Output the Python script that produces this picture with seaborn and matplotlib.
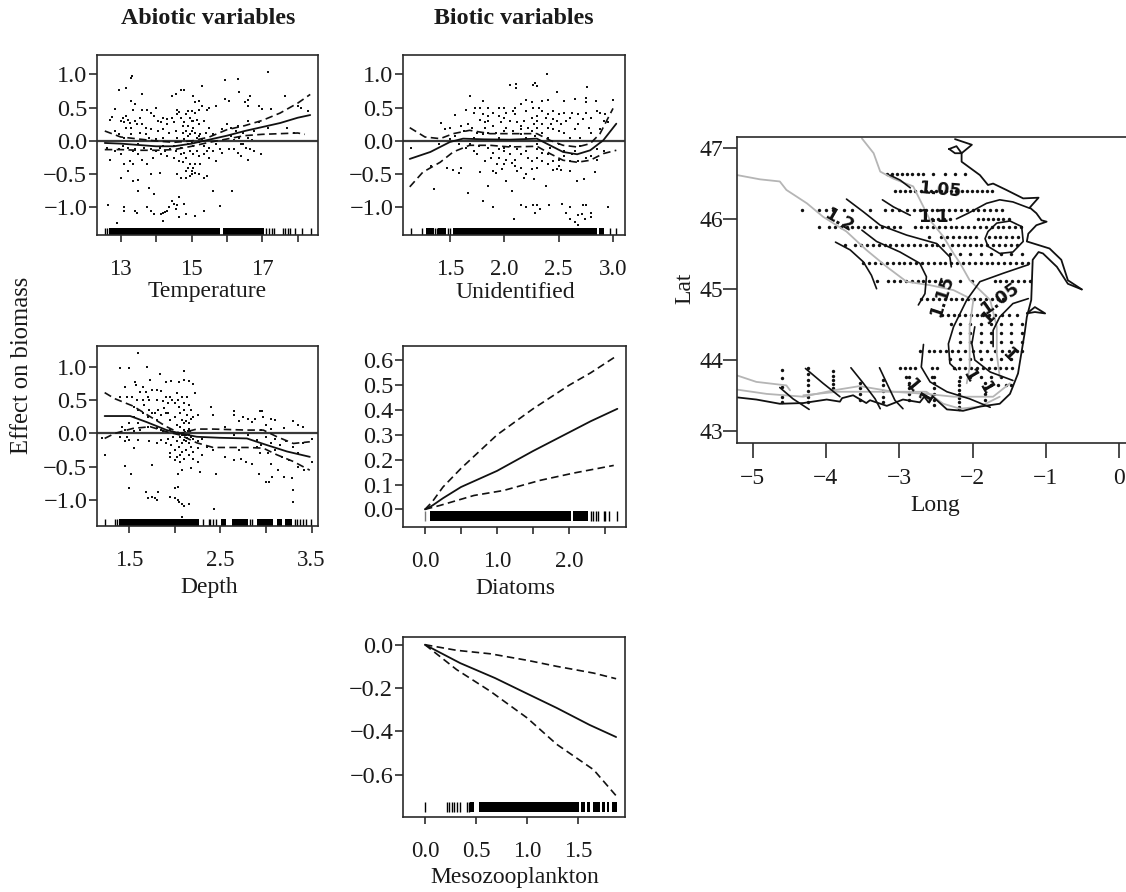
# plot.py - GAM partial effects on biomass and the map of the spatial term
import pandas as pd
import matplotlib
matplotlib.use("Agg")
import matplotlib.pyplot as plt
import seaborn as sns

# --- Temperature panel ---
temp_x = [12.55, 13.0, 13.5, 14.0, 14.5, 15.0, 15.5, 16.0, 16.5, 17.0, 17.5, 18.0, 18.35]
temp_mean = [-0.03, -0.04, -0.06, -0.08, -0.08, -0.04, 0.02, 0.08, 0.15, 0.21, 0.27, 0.35, 0.39]
temp_upper = [0.15, 0.06, 0.03, 0.0, -0.02, 0.0, 0.06, 0.17, 0.23, 0.31, 0.42, 0.57, 0.70]
temp_lower_x = [12.55, 13.0, 13.5, 14.0, 14.5, 15.0, 15.5, 16.0, 16.5, 17.0, 17.5, 18.0, 18.2]
temp_lower = [-0.13, -0.13, -0.14, -0.14, -0.13, -0.08, -0.02, 0.03, 0.08, 0.10, 0.11, 0.12, 0.10]
temp_rug_blocks = [(12.68, 15.81), (15.88, 17.04)]
temp_rug_single = [12.56, 12.6, 17.11, 17.18, 17.27, 17.32, 17.58, 17.65, 17.72, 17.77, 17.93, 18.12, 18.36]
temp_points = [
    (13.3, .95), (13.32, .97), (12.95, .77), (13.15, .79), (13.6, .7), (14.45, .68), (14.55, .7), (14.7, .77),
    (14.8, .77), (15.3, .82), (15.95, .92), (16.3, .93), (16.35, .74), (17.15, 1.04), (15.05, .68), (15.2, .6),
    (15.1, .58), (15.95, .63), (16.05, .6), (16.65, .67), (16.6, .62), (16.5, .58), (16.6, .53), (16.9, .53),
    (17.0, .48), (17.25, .48), (17.65, .67), (18.1, .5), (18.0, .52), (18.3, .45), (12.85, .48), (12.75, .36),
    (12.7, .32), (13.05, .35), (13.0, .3), (13.1, .28), (13.3, .6), (13.4, .55), (13.35, .47), (13.6, .47),
    (13.75, .46), (13.85, .42), (13.95, .38), (14.0, .5), (14.2, .35), (14.3, .33), (14.05, .3), (14.45, .35),
    (14.6, .47), (14.65, .44), (14.85, .4), (14.95, .35), (15.0, .3), (15.1, .42), (15.2, .46), (15.3, .52),
    (15.45, .47), (15.5, .5), (15.7, .52), (14.9, .45), (15.0, .45), (14.8, .28), (14.9, .22), (15.05, .2),
    (15.2, .25), (15.35, .3), (15.5, .2), (13.15, .2), (13.3, .2), (13.45, .25), (13.6, .25), (13.7, .2),
    (13.85, .18), (14.05, .15), (14.2, .18), (14.35, .12), (14.55, .15), (14.75, .12), (16.0, .25), (16.1, .2),
    (16.3, .22), (16.45, .12), (16.6, .3), (16.75, .15), (16.9, .28), (16.1, .08), (15.85, .18), (17.7, .2),
    (17.9, .12), (17.15, .2), (12.85, .15), (12.95, .1), (13.1, .05), (12.6, -.1), (12.7, -.28), (12.85, -.15),
    (13.0, -.2), (13.1, -.35), (13.25, -.3), (13.35, -.35), (13.2, -.45), (13.0, -.55), (13.4, -.12), (13.5, -.2),
    (13.6, -.28), (13.75, -.35), (13.9, -.25), (14.0, -.15), (14.15, -.2), (14.3, -.22), (14.5, -.25), (14.65, -.3),
    (14.75, -.32), (14.85, -.25), (14.9, -.4), (15.0, -.45), (15.1, -.35), (15.2, -.22), (15.35, -.2), (15.5, -.25),
    (15.7, -.3), (15.85, -.18), (16.05, -.12), (16.3, -.18), (16.4, -.22), (16.6, -.28), (16.75, -.15), (16.95, -.2),
    (14.6, -.5), (14.7, -.55), (14.85, -.55), (15.0, -.5), (15.2, -.5), (15.35, -.55), (15.45, -.52), (13.35, -.6),
    (13.5, -.58), (13.85, -.5), (14.1, -.48), (13.5, -.75), (13.8, -.7), (13.95, -.8), (15.6, -.75), (16.15, -.75),
    (15.0, -.02), (15.1, 0.0), (15.2, -.02), (15.3, .01), (15.15, .04), (14.9, -.05), (14.8, .03), (15.05, -.08),
    (14.7, -.1), (15.35, -.08), (15.5, -.1), (15.7, -.05), (16.2, .02), (16.4, -.05), (13.5, -.05), (13.8, .05),
    (14.2, -.08), (14.5, -.07), (12.65, -.97), (13.1, -1.0), (13.1, -1.05), (13.4, -1.05), (13.45, -1.08),
    (13.75, -1.0), (13.85, -1.05), (13.95, -1.1), (14.15, -1.1), (14.2, -1.08), (14.25, -1.07), (14.3, -1.05),
    (14.35, -1.0), (14.45, -.9), (14.5, -.95), (14.55, -1.02), (14.65, -.85), (14.6, -.97), (14.65, -1.15),
    (14.8, -.95), (14.85, -1.1), (15.1, -1.13), (15.35, -1.06), (15.8, -.98), (14.2, -1.2), (12.9, -1.23),
    (14.6, .4), (14.7, .35), (14.75, .22), (14.85, .15), (14.95, .1), (15.05, .3), (15.1, .12), (15.15, .32),
    (15.25, .1), (15.4, .12), (15.6, .1), (14.95, -.15), (15.05, -.2), (15.15, -.15), (14.8, -.18), (14.7, -.2),
    (14.55, -.15), (14.4, -.12), (14.25, -.15), (14.1, -.1), (13.85, -.12), (13.65, -.1), (13.35, -.15), (13.2, -.1),
    (13.05, -.08), (12.95, -.12), (14.95, -.35), (15.05, -.4), (14.85, -.45), (14.95, -.52), (15.1, -.48),
    (15.25, -.35), (15.45, -.15), (15.6, -.15), (15.8, -.12), (16.2, -.12), (16.45, -.05), (16.55, -.1),
    (16.65, -.12), (13.2, .32), (13.25, .27), (13.4, .3), (13.55, .35), (13.15, .38), (14.15, .28), (14.3, .25),
    (14.5, .28), (16.25, .15), (16.35, .05), (16.6, .05), (16.7, .02), (13.3, .1), (13.55, .12), (13.7, .1),
    (14.0, .03), (14.2, .05), (14.6, .05), (14.9, .08), (15.2, .08), (15.0, .15),
]

# --- Unidentified panel ---
unid_x = [1.13, 1.32, 1.5, 1.62, 1.81, 2.05, 2.30, 2.42, 2.54, 2.67, 2.79, 2.91, 3.03]
unid_mean = [-0.27, -0.165, -0.015, 0.035, 0.025, 0.02, 0.035, -0.065, -0.165, -0.20, -0.14, 0.01, 0.26]
unid_upper_x = [1.13, 1.27, 1.41, 1.53, 1.68, 1.87, 2.05, 2.30, 2.42, 2.54, 2.67, 2.79, 2.88, 3.0]
unid_upper = [0.20, 0.06, 0.035, 0.11, 0.16, 0.11, 0.11, 0.11, 0.01, -0.065, -0.09, -0.04, 0.11, 0.49]
unid_lower_x = [1.13, 1.25, 1.41, 1.53, 1.68, 1.87, 2.05, 2.30, 2.42, 2.54, 2.67, 2.79, 2.91, 3.03]
unid_lower = [-0.69, -0.47, -0.32, -0.165, -0.065, -0.065, -0.09, -0.08, -0.19, -0.29, -0.32, -0.29, -0.19, -0.14]
unid_rug_blocks = [(1.28, 1.35), (1.39, 1.46), (1.525, 2.85), (2.87, 2.92)]
unid_rug_single = [1.14, 1.24, 1.36, 1.38, 1.48, 1.5, 2.97, 3.03]
unid_points = [
    (2.39, 1.0), (2.05, .84), (2.11, .85), (2.11, .79), (2.28, .87), (2.30, .83), (2.26, .84), (2.76, .81),
    (2.48, .74), (1.68, .67), (3.0, .62), (1.8, .6), (2.55, .6), (2.65, .63), (2.75, .65), (2.75, .58), (2.84, .6),
    (2.2, .62), (2.25, .58), (2.35, .6), (2.4, .62), (2.15, .55), (2.32, .5), (2.0, .5), (1.95, .5), (2.1, .5),
    (1.65, .46), (1.73, .5), (1.78, .5), (1.85, .5), (1.55, .39), (1.72, .42), (1.8, .4), (1.85, .38), (1.78, .32),
    (1.82, .28), (1.9, .42), (1.95, .38), (2.02, .42), (2.1, .4), (2.2, .45), (2.26, .5), (2.35, .45), (2.3, .38),
    (2.38, .35), (2.45, .45), (2.5, .4), (2.55, .42), (2.62, .42), (2.68, .4), (2.85, .45), (2.88, .42), (2.93, .4),
    (2.8, .35), (2.72, .33), (2.57, .3), (2.48, .3), (2.43, .25), (2.35, .25), (2.27, .25), (2.18, .3), (2.12, .28),
    (2.05, .3), (1.97, .28), (1.9, .22), (1.82, .2), (1.67, .25), (1.7, .2), (1.63, .15), (1.6, .22), (1.42, .27),
    (1.45, .18), (1.5, .2), (2.45, .18), (2.55, .12), (2.65, .18), (2.7, .05), (2.8, .12), (2.88, .18), (2.0, .15),
    (2.25, .15), (2.35, .12), (1.14, -.1), (1.4, -.05), (1.55, .08), (1.65, -.1), (1.72, -.15), (1.75, -.2),
    (1.85, -.1), (1.9, -.18), (1.95, -.25), (2.0, -.15), (2.05, -.2), (2.1, -.28), (2.15, -.2), (2.2, -.15),
    (2.25, -.3), (2.3, -.25), (2.35, -.18), (2.4, -.2), (2.45, -.3), (2.5, -.38), (2.48, -.42), (2.55, -.15),
    (2.62, -.2), (2.68, -.3), (2.75, -.25), (2.8, -.22), (2.85, -.28), (2.92, -.15), (2.0, -.35), (1.92, -.48),
    (1.9, -.45), (2.02, -.6), (2.1, -.38), (2.15, -.4), (2.2, -.5), (2.25, -.42), (2.18, -.55), (2.27, -.57),
    (2.45, -.43), (2.6, -.45), (1.6, -.4), (1.47, -.4), (1.53, -.43), (1.58, -.48), (1.78, -.47), (1.33, -.37),
    (1.35, -.72), (2.67, -.6), (2.73, -.57), (2.83, -.47), (2.38, -.68), (1.85, -.68), (1.67, -.78), (2.07, -.75),
    (1.8, -.9), (1.9, -1.0), (2.15, -.97), (2.2, -1.0), (2.26, -.97), (2.3, -.97), (2.33, -1.02), (2.28, -1.08),
    (2.41, -.97), (2.53, -.95), (2.6, -1.0), (2.57, -1.08), (2.6, -1.18), (2.65, -1.22), (2.68, -1.12),
    (2.68, -1.27), (2.71, -1.1), (2.72, -.96), (2.75, -.96), (2.74, -1.17), (2.8, -1.08), (2.8, -1.14), (2.95, -1.0),
    (2.09, -1.18), (2.0, -.1), (2.1, 0.0), (2.2, .05), (2.3, -.05), (1.8, .0), (1.95, .05), (2.4, .05), (2.5, -.05),
    (2.65, -.15), (1.85, .12), (1.72, .05),
    (1.75, .12), (1.8, .1), (1.92, .12), (2.02, .2), (2.08, .15), (2.15, .18), (2.22, .2), (2.3, .2), (2.4, .2),
    (2.5, .15), (2.6, .05), (2.15, .1), (2.28, .08), (2.42, -.1), (2.55, -.22), (2.6, -.3), (2.35, -.3), (2.3, -.12),
    (2.22, -.25), (2.12, -.12), (2.05, -.08), (1.95, -.12), (1.88, -.25), (1.82, -.3), (1.77, -.08), (1.68, -.05),
    (1.58, -.05), (1.5, .03), (2.02, -.28), (2.07, -.33), (2.12, -.45), (1.98, -.42), (1.93, -.35), (2.3, -.4),
    (2.4, -.35), (2.5, -.28), (2.52, -.43), (2.15, .22), (2.25, .35), (2.3, .3), (2.4, .4), (2.08, .45), (2.0, .35),
    (1.85, .3), (2.45, .33), (2.52, .25), (2.6, .35), (2.68, .25), (2.75, .42), (2.78, .2), (2.92, .3), (2.95, .28),
    (2.7, -.08), (2.85, -.12),
]

# --- Depth panel ---
depth_x = [1.23, 1.51, 1.69, 1.91, 2.06, 2.24, 2.49, 2.79, 3.0, 3.23, 3.48]
depth_mean = [0.26, 0.26, 0.17, 0.05, 0.0, -0.05, -0.065, -0.075, -0.17, -0.27, -0.35]
depth_ci_x = [1.23, 1.34, 1.54, 1.73, 1.91, 2.06, 2.24, 2.42, 2.79, 2.97, 3.12, 3.30, 3.48]
depth_upper = [0.61, 0.52, 0.41, 0.25, 0.10, 0.0, 0.065, 0.065, 0.05, 0.05, -0.05, -0.15, -0.125]
depth_lower = [-0.075, 0.0, 0.075, 0.10, 0.025, -0.025, -0.14, -0.21, -0.21, -0.22, -0.32, -0.42, -0.55]
depth_rug_blocks = [(1.39, 2.27), (2.51, 2.56), (2.63, 2.80), (2.90, 3.08), (3.12, 3.17), (3.21, 3.28)]
depth_rug_single = [1.23, 1.34, 1.37, 2.31, 2.37, 2.39, 2.42, 2.45, 2.82, 2.85, 3.32, 3.34, 3.37, 3.41, 3.44, 3.49]
depth_points = [
    (1.6, 1.2), (1.4, .98), (1.5, .98), (1.69, .99), (1.84, .89), (2.1, .94), (1.56, .77), (1.73, .8), (1.57, .72),
    (1.45, .7), (1.65, .7), (1.9, .77), (1.96, .78), (2.05, .77), (2.1, .8), (2.15, .78), (2.2, .74), (1.62, .62),
    (1.68, .62), (1.75, .65), (1.8, .65), (1.85, .63), (1.9, .55), (1.95, .55), (2.02, .6), (2.08, .55), (2.13, .55),
    (2.22, .6), (1.4, .55), (1.47, .55), (1.53, .55), (1.58, .5), (1.65, .5), (1.72, .5), (1.8, .5), (1.87, .48),
    (1.92, .45), (1.97, .5), (2.05, .4), (2.1, .45), (2.15, .42), (2.18, .35), (2.1, .35), (2.13, .28), (2.2, .25),
    (2.18, .22), (2.25, .27), (2.4, .4), (2.42, .27), (2.65, .34), (2.65, .27), (2.75, .25), (2.8, .22), (2.88, .22),
    (2.93, .34), (2.96, .34), (2.97, .25), (3.05, .22), (3.1, .2), (3.3, .18), (3.4, .1), (3.35, .13), (2.7, .18),
    (2.85, .17), (3.0, .12), (3.2, .08), (2.55, .1), (3.05, .07), (1.2, -.07), (1.23, -.32), (1.42, .1), (1.5, .15),
    (1.55, .25), (1.6, .15), (1.65, .3), (1.7, .25), (1.75, .3), (1.8, .2), (1.85, .28), (1.9, .3), (1.95, .2),
    (2.0, .25), (1.7, .1), (1.8, .08), (1.85, .05), (1.95, .05), (2.02, .12), (2.06, .1), (2.1, .05), (2.12, -.02),
    (2.14, .03), (2.15, -.03), (2.17, 0), (2.18, -.05), (2.13, -.07), (2.16, .06), (2.1, -.1), (2.08, -.15),
    (2.05, -.2), (2.0, -.25), (1.95, -.3), (1.9, -.15), (1.85, -.1), (1.8, -.15), (1.72, -.12), (1.6, -.1),
    (1.55, -.22), (1.45, -.12), (1.47, -.05), (1.5, -.1), (1.95, -.35), (2.02, -.35), (2.06, -.43), (2.1, -.38),
    (2.15, -.33), (2.2, -.28), (2.25, -.22), (2.3, -.33), (2.25, -.42), (2.18, -.52), (2.28, -.58), (2.35, -.2),
    (2.42, -.25), (2.55, -.35), (2.65, -.4), (2.72, -.38), (2.78, -.42), (2.85, -.45), (2.93, -.3), (3.02, -.3),
    (3.1, -.25), (3.18, -.35), (3.25, -.4), (3.35, -.5), (3.42, -.55), (3.5, -.42), (3.5, -.08), (3.4, -.15),
    (2.9, -.1), (3.0, -.05), (3.1, -.08), (2.7, -.25), (3.0, -.72), (3.03, -.72), (3.06, -.65), (3.05, -.45),
    (3.13, -.55), (3.2, -.65), (3.28, -.67), (2.92, -.6), (2.03, -.6), (2.08, -.55), (2.45, -.6), (1.45, -.48),
    (1.52, -.6), (1.75, -.47), (1.5, -.82), (1.68, -.87), (1.7, -.96), (1.75, -.95), (1.78, -.96), (1.82, -.87),
    (1.95, -.95), (2.0, -.97), (2.03, -1.0), (2.05, -1.03), (2.08, -1.05), (2.1, -1.08), (2.15, -1.05), (2.03, -.8),
    (2.0, -.82), (1.8, -1.0), (2.08, -1.25), (2.43, -1.13), (3.3, -.85), (3.3, -1.02),
    (2.0, .45), (2.03, .5), (2.06, .3), (2.08, .2), (2.1, .15), (2.12, .18), (2.15, .15), (2.06, -.05), (2.08, -.03),
    (2.1, -.02), (2.11, .02), (2.13, .01), (2.14, -.01), (2.16, -.02), (2.17, .03), (2.19, .0), (2.12, -.12),
    (2.15, -.15), (2.18, -.2), (2.02, -.12), (1.98, -.05), (1.92, -.08), (1.87, .03), (1.78, .3), (1.82, .35),
    (1.88, .38), (1.93, .3), (1.72, .35), (1.66, .42), (1.6, .35), (1.55, .4), (1.7, .55), (1.62, .05), (1.55, .03),
    (1.45, .05), (1.4, -.05), (2.2, -.08), (2.25, -.12), (2.3, -.08), (2.08, -.28), (2.12, -.25), (2.2, -.38),
    (2.06, -.32), (1.96, -.18), (2.0, -.4), (2.9, -.2), (2.95, -.18), (3.05, -.15), (3.15, -.18), (3.22, -.12),
    (3.3, -.2), (3.35, -.3), (2.95, .05), (2.8, -.02), (2.65, -.02),
]

# --- Diatoms panel ---
diat_x = [0.0, 0.1, 0.25, 0.5, 1.0, 1.5, 2.0, 2.3, 2.67]
diat_mean = [0.0, 0.015, 0.045, 0.09, 0.155, 0.235, 0.31, 0.355, 0.405]
diat_upper = [0.0, 0.03, 0.09, 0.165, 0.30, 0.405, 0.50, 0.55, 0.62]
diat_lower_x = [0.0, 0.21, 0.68, 1.09, 1.6, 2.06, 2.62]
diat_lower = [0.0, 0.016, 0.056, 0.076, 0.117, 0.146, 0.177]
diat_rug_blocks = [(0.065, 2.02), (2.06, 2.26)]
diat_rug_single = [2.31, 2.33, 2.37, 2.40, 2.48, 2.50, 2.55, 2.67]
diat_rug_grey = [0.0]

# --- Mesozooplankton panel ---
meso_x = [0.0, 0.345, 0.686, 1.0, 1.29, 1.61, 1.87]
meso_mean = [0.0, -0.085, -0.154, -0.226, -0.292, -0.37, -0.426]
meso_ci_x = [0.0, 0.31, 0.64, 1.0, 1.29, 1.65, 1.87]
meso_upper = [0.0, -0.026, -0.042, -0.072, -0.10, -0.131, -0.157]
meso_lower = [0.0, -0.115, -0.215, -0.338, -0.46, -0.577, -0.697]
meso_rug_blocks = [(0.44, 0.48), (0.53, 1.51), (1.53, 1.57), (1.59, 1.61), (1.64, 1.71), (1.73, 1.76),
                   (1.78, 1.80), (1.83, 1.88)]
meso_rug_single = [0.0, 0.22, 0.24, 0.26, 0.28, 0.31, 0.34, 0.41, 0.43]

# --- Map: coast, isobaths, contours, stations ---
coast_south_lon = [-5.21, -4.95, -4.63, -4.31, -3.99, -3.81, -3.78, -3.63, -3.45, -3.40, -3.17, -2.95, -2.72, -2.66,
                   -2.60, -2.54, -2.35, -2.13, -1.90, -1.63, -1.49, -1.38, -1.29, -1.26, -1.20, -1.18, -1.10, -1.04,
                   -0.85, -0.70, -0.51]
coast_south_lat = [43.47, 43.44, 43.38, 43.39, 43.44, 43.41, 43.46, 43.50, 43.39, 43.43, 43.35, 43.44, 43.40, 43.48,
                   43.40, 43.48, 43.30, 43.28, 43.34, 43.38, 43.52, 43.81, 44.38, 44.61, 44.85, 45.42, 45.53, 45.51,
                   45.32, 45.08, 45.00]
coast_north_lon = [-2.24, -2.01, -2.15, -2.15, -1.90, -1.79, -1.72, -1.54, -1.31, -1.10, -1.22, -1.13, -1.06, -0.99,
                   -1.13, -1.24, -1.26, -0.95, -0.79, -0.70, -0.51]
coast_north_lat = [47.13, 47.05, 46.93, 46.81, 46.62, 46.48, 46.50, 46.41, 46.29, 46.30, 46.16, 46.08, 45.98, 45.96,
                   45.91, 45.79, 45.68, 45.58, 45.42, 45.13, 45.00]
island_north_lon = [-2.32, -2.22, -2.15, -2.24, -2.32]
island_north_lat = [46.99, 47.03, 46.93, 46.93, 46.99]
island_south_lon = [-1.26, -1.15, -1.01, -1.15, -1.26]
island_south_lat = [44.66, 44.75, 44.66, 44.68, 44.66]

grey_lines_lon = [
    [-3.51, -3.35, -3.26, -3.08, -2.81, -2.67, -2.58, -2.40, -2.26, -2.17, -2.04, -1.76, -1.67, -1.67, -1.63],
    [-5.21, -4.90, -4.63, -4.54, -4.26, -4.04, -3.72, -3.45, -3.17, -2.90, -2.58, -2.26, -1.99, -2.04, -2.04, -2.08],
    [-5.21, -4.95, -4.54, -4.49],
    [-5.21, -4.81, -4.31, -3.90, -3.54, -3.08, -2.63, -2.26, -1.72, -1.49],
    [-4.31, -3.85, -2.63, -2.40, -2.17, -1.90, -1.63],
]
grey_lines_lat = [
    [47.14, 46.93, 46.67, 46.57, 46.46, 46.17, 45.98, 45.75, 45.51, 45.37, 45.13, 44.85, 44.47, 44.09, 43.76],
    [46.62, 46.56, 46.53, 46.41, 46.22, 46.03, 45.82, 45.56, 45.32, 45.11, 45.06, 44.99, 44.85, 44.47, 43.90, 43.67],
    [43.78, 43.69, 43.64, 43.57],
    [43.58, 43.52, 43.48, 43.57, 43.63, 43.55, 43.52, 43.48, 43.48, 43.67],
    [43.50, 43.55, 43.55, 43.38, 43.31, 43.34, 43.48],
]
contours_lon = [
    [-3.13, -2.99, -2.85],
    [-3.23, -3.08, -2.85],
    [-3.72, -3.49, -3.26, -2.90, -2.49, -2.31, -2.29],
    [-2.22, -2.06, -1.81, -1.63, -1.45, -1.22],
    [-3.51, -3.31, -2.99, -2.72, -2.63, -2.65, -2.74],
    [-3.87, -3.67, -3.49, -3.38, -3.31],
    [-1.33, -1.49, -1.67, -1.79, -1.83, -1.79, -1.63, -1.45, -1.31, -1.33],
    [-1.24, -1.58, -1.90, -2.08, -2.26, -2.33, -2.31, -2.22],
    [-1.24, -1.45, -1.63, -1.72, -1.72],
    [-1.97, -2.01, -1.97, -1.76, -1.45],
    [-2.67, -2.70, -2.58, -2.35, -2.04, -1.76],
    [-4.28, -4.04, -3.81],
    [-4.63, -4.45, -4.23],
    [-3.66, -3.49, -3.33, -3.26],
    [-3.27, -3.17, -3.06, -2.95],
]
contours_lat = [
    [46.62, 46.55, 46.44],
    [46.27, 46.17, 46.05],
    [46.28, 46.10, 45.91, 45.77, 45.65, 45.46, 45.32],
    [46.00, 46.08, 46.22, 46.27, 46.24, 46.15],
    [45.84, 45.68, 45.53, 45.37, 45.18, 44.94, 44.78],
    [45.67, 45.56, 45.39, 45.20, 45.01],
    [45.89, 45.97, 45.94, 45.82, 45.72, 45.61, 45.51, 45.53, 45.68, 45.89],
    [45.35, 45.23, 45.11, 44.85, 44.47, 44.23, 43.95, 43.86],
    [44.87, 44.80, 44.61, 44.42, 44.19],
    [44.47, 44.23, 44.00, 43.83, 43.71],
    [44.22, 43.90, 43.69, 43.55, 43.45, 43.33],
    [43.88, 43.67, 43.48],
    [43.61, 43.45, 43.30],
    [43.89, 43.67, 43.45, 43.31],
    [43.89, 43.67, 43.43, 43.31],
]
contour_labels = ["1.05", "1.1", "1.2", "1.15", "1.05", "1", "1", "1", "1", "1", "1"]
contour_label_lon = [-2.45, -2.54, -3.83, -2.42, -1.63, -1.79, -1.51, -2.04, -1.83, -2.83, -2.63]
contour_label_lat = [46.41, 46.02, 45.98, 44.90, 44.87, 44.61, 44.07, 43.78, 43.60, 43.64, 43.48]
contour_label_rot = [-5, 0, -30, 72, 35, 45, -45, -60, -60, -50, 60]

station_row_lat = [46.63, 46.39, 46.13, 46.00, 45.88, 45.75, 45.63, 45.50, 45.38, 45.12, 44.87, 44.64, 44.51, 44.38,
                   44.26, 44.13, 44.01, 43.88, 43.76, 43.64]
station_row_lon = [
    [-3.17, -3.10, -3.03, -2.96, -2.89, -2.82, -2.75, -2.67, -2.54, -2.38, -2.24, -2.10],
    [-3.06, -2.99, -2.92, -2.85, -2.78, -2.71, -2.64, -2.57, -2.50, -2.43, -2.36, -2.29, -2.22, -2.15, -2.08, -2.01,
     -1.94, -1.87, -1.80, -1.73],
    [-4.33, -4.10, -4.00, -3.90, -3.75, -3.65, -3.40, -3.20, -3.10, -3.00, -2.90, -2.80, -2.72, -2.64, -2.56, -2.48,
     -2.40, -2.32, -2.24, -2.16, -2.08, -2.00, -1.92, -1.84, -1.76, -1.68, -1.60],
    [-2.55, -2.47, -2.39, -2.31, -1.93, -1.86, -1.79, -1.72, -1.65, -1.58, -1.51],
    [-4.09, -3.96, -3.88, -3.80, -3.72, -3.64, -3.56, -3.48, -3.40, -3.32, -3.24, -3.15, -3.07, -2.99, -2.78, -2.70,
     -2.62, -2.54, -2.46, -2.38, -2.30, -2.22, -2.14, -2.06, -1.98, -1.90, -1.82, -1.74, -1.66, -1.58, -1.50, -1.42,
     -1.34],
    [-2.60, -2.43, -2.35, -2.27, -2.19, -2.11, -2.03, -1.95, -1.78, -1.70, -1.62, -1.54, -1.46, -1.38],
    [-3.74, -3.60, -3.52, -3.44, -3.36, -3.28, -3.20, -3.12, -3.04, -2.96, -2.88, -2.80, -2.72, -2.64, -2.56, -2.48,
     -2.40, -2.28, -2.20, -2.12, -2.04, -1.96, -1.88, -1.80, -1.72, -1.64, -1.56, -1.48, -1.40],
    [-2.31, -2.17, -2.03, -1.89, -1.75, -1.61, -1.47, -1.33],
    [-3.49, -3.41, -3.33, -3.25, -3.17, -3.09, -3.01, -2.93, -2.85, -2.77, -2.69, -2.61, -2.53, -2.45, -2.37, -2.29,
     -2.21, -2.13, -2.05, -1.97, -1.89, -1.81, -1.73, -1.65, -1.57, -1.49, -1.41, -1.33, -1.25],
    [-3.31, -3.15, -3.07, -2.99, -2.91, -2.83, -2.75, -2.67, -2.59, -2.51, -2.43, -2.17, -2.01, -1.70, -1.62, -1.54,
     -1.46, -1.38, -1.30, -1.22],
    [-2.70, -2.62, -2.54, -2.46, -2.38, -2.30, -2.22, -2.14, -2.06, -1.98, -1.90, -1.82, -1.74, -1.66, -1.58],
    [-2.42, -2.34, -2.26, -2.18, -2.10, -2.02, -1.94, -1.86, -1.78, -1.70, -1.60, -1.50, -1.40],
    [-2.30, -2.17, -2.03, -1.89, -1.75, -1.61, -1.47, -1.33],
    [-2.17, -2.03, -1.89, -1.75, -1.61, -1.47, -1.33],
    [-2.17, -2.03, -1.89, -1.75, -1.61, -1.47, -1.33],
    [-2.72, -2.60, -2.52, -2.44, -2.36, -2.28, -2.20, -2.10, -2.00, -1.90, -1.80, -1.70, -1.60, -1.50, -1.40, -1.32],
    [-2.31, -2.17, -2.03, -1.89, -1.75, -1.61, -1.47],
    [-2.99, -2.92, -2.85, -2.78, -2.55, -2.48, -2.26, -2.18, -2.10, -2.02, -1.94, -1.86, -1.78, -1.70, -1.62, -1.54,
     -1.46],
    [-2.91, -2.55, -2.17, -2.03, -1.89, -1.75, -1.61],
    [-1.75, -1.65, -1.55, -1.47],
]
transect_lon = [-4.60, -4.24, -3.90, -3.54, -3.22, -2.87, -2.53, -2.18, -1.83]
transect_lat = [
    [43.86, 43.74, 43.62, 43.48, 43.40],
    [43.88, 43.80, 43.72, 43.64, 43.56, 43.48, 43.40],
    [43.84, 43.78, 43.72, 43.66, 43.60],
    [43.68, 43.60, 43.52, 43.44],
    [43.72, 43.64, 43.56, 43.48, 43.40],
    [43.76, 43.68, 43.60, 43.52, 43.44],
    [43.76, 43.68, 43.60, 43.52, 43.44, 43.36],
    [43.70, 43.64, 43.58, 43.52, 43.46, 43.40, 43.34, 43.30],
    [43.68, 43.60, 43.52, 43.44],
]

FIG_W, FIG_H = 1126, 892
INK = "#1a1a1a"

sns.set_theme(style="ticks")
plt.rcParams["font.family"] = ["Liberation Serif", "DejaVu Serif"]
plt.rcParams["axes.edgecolor"] = "#2a2a2a"
plt.rcParams["axes.linewidth"] = 1.2
plt.rcParams["text.color"] = INK
plt.rcParams["xtick.color"] = INK
plt.rcParams["ytick.color"] = INK

fig = plt.figure(figsize=(FIG_W / 100, FIG_H / 100), dpi=100)


def panel(left, top, right, bottom, xlim, ylim, xticks, xlabels, yticks, ylabels):
    """Axes placed by its pixel box in the picture."""
    ax = fig.add_axes([left / FIG_W, 1 - bottom / FIG_H, (right - left) / FIG_W, (bottom - top) / FIG_H])
    ax.set_xlim(*xlim)
    ax.set_ylim(*ylim)
    ax.set_xticks(xticks, xlabels, fontsize=16.5)
    ax.set_yticks(yticks, ylabels, fontsize=17.5)
    ax.tick_params(axis="x", length=5, width=1.1, pad=12)
    ax.tick_params(axis="y", length=6, width=1.1, pad=1)
    return ax


def draw_curves(ax, x, mean, x_up, upper, x_lo, lower):
    sns.lineplot(x=x, y=mean, ax=ax, color="#111111", lw=1.3, errorbar=None, estimator=None, sort=False)
    dash = (0, (4.5, 2.6))
    sns.lineplot(x=x_up, y=upper, ax=ax, color="#111111", lw=1.2, errorbar=None, estimator=None, sort=False,
                 linestyle=dash)
    sns.lineplot(x=x_lo, y=lower, ax=ax, color="#111111", lw=1.2, errorbar=None, estimator=None, sort=False,
                 linestyle=dash)


def draw_rug(ax, blocks, singles, y0, y1):
    trans = ax.get_xaxis_transform()
    for start, end in blocks:
        ax.fill_between([start, end], y0, y1, transform=trans, color="black", lw=0)
    ax.vlines(singles, y0, y1, transform=trans, color="black", lw=1.0)


def draw_points(ax, points):
    df = pd.DataFrame(points, columns=["x", "y"])
    sns.scatterplot(data=df, x="x", y="y", ax=ax, s=2.6, color="#111111", linewidth=0, marker="s", legend=False)
    ax.set_xlabel("")
    ax.set_ylabel("")


effect_ticks = [-1.0, -0.5, 0.0, 0.5, 1.0]
effect_labels = ["\u22121.0", "\u22120.5", "0.0", "0.5", "1.0"]

# Temperature
ax = panel(97, 55, 318, 235, (12.33, 18.57), (-1.414, 1.293), [13, 14, 15, 16, 17, 18],
           ["13", "", "15", "", "17", ""], effect_ticks, effect_labels)
draw_points(ax, temp_points)
ax.axhline(0, color="#3a3a3a", lw=1.6)
draw_curves(ax, temp_x, temp_mean, temp_x, temp_upper, temp_lower_x, temp_lower)
draw_rug(ax, temp_rug_blocks, temp_rug_single, 0, 0.037)

# Unidentified
ax = panel(403, 55, 625, 235, (1.068, 3.11), (-1.414, 1.293), [1.5, 2.0, 2.5, 3.0],
           ["1.5", "2.0", "2.5", "3.0"], effect_ticks, effect_labels)
draw_points(ax, unid_points)
ax.axhline(0, color="#3a3a3a", lw=1.6)
draw_curves(ax, unid_x, unid_mean, unid_upper_x, unid_upper, unid_lower_x, unid_lower)
draw_rug(ax, unid_rug_blocks, unid_rug_single, 0, 0.037)

# Depth
ax = panel(97, 346, 318, 526, (1.146, 3.57), (-1.384, 1.307), [1.5, 2.0, 2.5, 3.0, 3.5],
           ["1.5", "", "2.5", "", "3.5"], effect_ticks, effect_labels)
draw_points(ax, depth_points)
ax.axhline(0, color="#3a3a3a", lw=1.6)
draw_curves(ax, depth_x, depth_mean, depth_ci_x, depth_upper, depth_ci_x, depth_lower)
draw_rug(ax, depth_rug_blocks, depth_rug_single, 0, 0.037)

# Diatoms
ax = panel(403, 346, 626, 527, (-0.305, 2.79), (-0.071, 0.658), [0.0, 0.5, 1.0, 1.5, 2.0, 2.5],
           ["0.0", "", "1.0", "", "2.0", ""], [0.0, 0.1, 0.2, 0.3, 0.4, 0.5, 0.6],
           ["0.0", "0.1", "0.2", "0.3", "0.4", "0.5", "0.6"])
draw_curves(ax, diat_x, diat_mean, diat_x, diat_upper, diat_lower_x, diat_lower)
draw_rug(ax, diat_rug_blocks, diat_rug_single, 0.033, 0.088)
ax.vlines(diat_rug_grey, 0.033, 0.088, transform=ax.get_xaxis_transform(), color="#777777", lw=1.0)

# Mesozooplankton
ax = panel(403, 637, 625, 817, (-0.2146, 1.957), (-0.795, 0.0355), [0.0, 0.5, 1.0, 1.5],
           ["0.0", "0.5", "1.0", "1.5"], [-0.6, -0.4, -0.2, 0.0], ["\u22120.6", "\u22120.4", "\u22120.2", "0.0"])
draw_curves(ax, meso_x, meso_mean, meso_ci_x, meso_upper, meso_ci_x, meso_lower)
draw_rug(ax, meso_rug_blocks, meso_rug_single, 0.026, 0.081)

# Map, the right edge runs off the picture
ax = panel(737, 137, 1131, 443, (-5.214, 0.161), (42.824, 47.16), [-5, -4, -3, -2, -1, 0],
           ["\u22125", "\u22124", "\u22123", "\u22122", "\u22121", "0"], [43, 44, 45, 46, 47],
           ["43", "44", "45", "46", "47"])
ax.tick_params(axis="y", length=10, pad=0, labelsize=17)
ax.tick_params(axis="x", length=11, pad=7, labelsize=17)
for lons, lats in zip(grey_lines_lon, grey_lines_lat):
    sns.lineplot(x=lons, y=lats, ax=ax, color="#b5b5b5", lw=1.3, errorbar=None, estimator=None, sort=False)
for lons, lats in zip(contours_lon, contours_lat):
    sns.lineplot(x=lons, y=lats, ax=ax, color="#111111", lw=1.2, errorbar=None, estimator=None, sort=False)
coast_parts = [(coast_south_lon, coast_south_lat), (coast_north_lon, coast_north_lat),
               (island_north_lon, island_north_lat), (island_south_lon, island_south_lat)]
for lons, lats in coast_parts:
    sns.lineplot(x=lons, y=lats, ax=ax, color="#111111", lw=1.3, errorbar=None, estimator=None, sort=False)
station_lon = []
station_lat = []
for lat, lons in zip(station_row_lat, station_row_lon):
    station_lon += lons
    station_lat += [lat] * len(lons)
for lon, lats in zip(transect_lon, transect_lat):
    station_lon += [lon] * len(lats)
    station_lat += lats
sns.scatterplot(x=station_lon, y=station_lat, ax=ax, s=6, color="#111111", linewidth=0, legend=False)
for text, lon, lat, rot in zip(contour_labels, contour_label_lon, contour_label_lat, contour_label_rot):
    ax.text(lon, lat, text, rotation=rot, ha="center", va="center", fontsize=12.5, fontweight="bold",
            family="DejaVu Sans", color="#111111")


# Labels outside the axes, placed by pixel
def label(x, y, text, size=17, **kw):
    fig.text(x / FIG_W, 1 - y / FIG_H, text, ha="center", va="center", fontsize=size, **kw)


label(208, 18, "Abiotic variables", size=17.3, fontweight="bold")
label(514, 18, "Biotic variables", size=17.3, fontweight="bold")
label(22, 365, "Effect on biomass", size=17.7, rotation=90)
label(207, 292, "Temperature")
label(515, 292, "Unidentified")
label(209, 588, "Depth")
label(515, 588, "Diatoms")
label(515, 878, "Mesozooplankton")
label(935, 505, "Long")
label(685, 288, "Lat", rotation=90)

fig.savefig("out.png", dpi=100)
